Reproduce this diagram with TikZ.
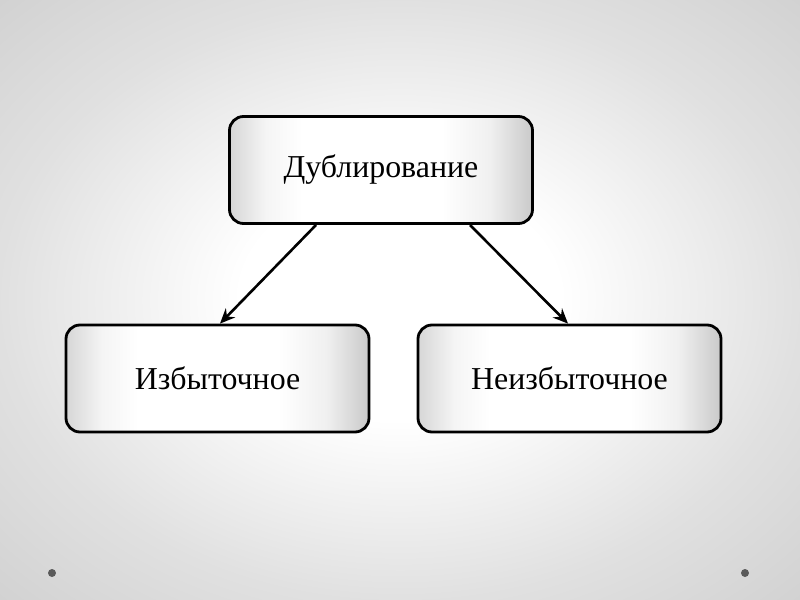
\documentclass[tikz,border=0pt]{standalone}
\usepackage{fontspec}
\setmainfont{Liberation Serif}
\usetikzlibrary{arrows.meta}
\pgfdeclarehorizontalshading{boxshade}{100bp}{color(0bp)=(gray!32); color(25bp)=(gray!32); color(31bp)=(gray!8); color(37bp)=(white); color(60bp)=(white); color(68bp)=(gray!12); color(75bp)=(gray!42); color(100bp)=(gray!42)}
\pgfdeclareradialshading{bgshade}{\pgfpoint{0bp}{0bp}}{color(0bp)=(white); color(10bp)=(white); color(25bp)=(gray!24); color(36bp)=(gray!36); color(50bp)=(gray!36)}
\begin{document}
\begin{tikzpicture}[x=1bp,y=-1bp,
  box/.style={draw=black,line width=2.8bp,rounded corners=14bp,
    minimum width=303bp,minimum height=107bp,
    shading=boxshade,
    font=\fontsize{32}{36}\selectfont,inner sep=0pt},
  conn/.style={line width=2.6bp,-{Stealth[length=15bp,width=13bp,inset=5bp]}}]
\useasboundingbox (0,0) rectangle (800,600);
\shade[shading=bgshade] (0,0) rectangle (800,600);
\fill[gray!70!black] (52,573) circle (4bp);
\fill[gray!70!black] (745,573) circle (4bp);
\node[box] (top) at (381,170) {Дублирование};
\node[box] (left) at (217.5,378.5) {Избыточное};
\node[box] (right) at (569.5,378.5) {Неизбыточное};
\coordinate (ls) at (316,225);
\coordinate (rs) at (470,225);
\draw[conn] (ls) -- ([xshift=2.5bp]left.north);
\draw[conn] (rs) -- ([xshift=-1.5bp]right.north);
\end{tikzpicture}
\end{document}
